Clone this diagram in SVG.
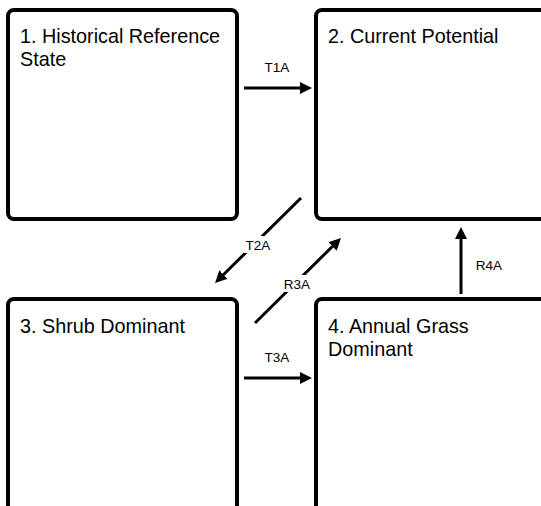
<svg xmlns="http://www.w3.org/2000/svg" width="541" height="506" viewBox="0 0 541 506">
  <style>
    .box { fill: #ffffff; stroke: #000000; stroke-width: 4; }
    .title { font-family: "Liberation Sans", Arial, sans-serif; font-size: 19.8px; fill: #000000; }
    .edge { stroke: #000000; stroke-width: 3; fill: none; marker-end: url(#head); }
    .lbl { font-family: "Liberation Sans", Arial, sans-serif; font-size: 13.5px; fill: #000000; text-anchor: middle; }
    .lblbg { fill: #ffffff; }
  </style>
  <defs>
    <marker id="head" markerUnits="userSpaceOnUse" markerWidth="14" markerHeight="12" refX="6" refY="6" orient="auto">
      <path d="M0,0 L12,6 L0,12 z" fill="#000000"/>
    </marker>
  </defs>
  <rect width="541" height="506" fill="#ffffff"/>

  <!-- states -->
  <g id="state1">
    <rect class="box" x="8" y="10" width="229" height="209" rx="6"/>
    <text class="title" x="20" y="43">1. Historical Reference</text>
    <text class="title" x="20" y="66">State</text>
  </g>
  <g id="state2">
    <rect class="box" x="316" y="10" width="250" height="209" rx="6"/>
    <text class="title" x="328" y="43">2. Current Potential</text>
  </g>
  <g id="state3">
    <rect class="box" x="8" y="299" width="229" height="260" rx="6"/>
    <text class="title" x="20" y="333">3. Shrub Dominant</text>
  </g>
  <g id="state4">
    <rect class="box" x="316" y="299" width="250" height="260" rx="6"/>
    <text class="title" x="328" y="333">4. Annual Grass</text>
    <text class="title" x="328" y="356">Dominant</text>
  </g>

  <!-- transitions -->
  <g id="connectors">
    <line class="edge" x1="244" y1="88" x2="306" y2="88"/>
    <text class="lbl" x="277" y="72">T1A</text>

    <line class="edge" x1="244" y1="378" x2="306" y2="378"/>
    <text class="lbl" x="277" y="362">T3A</text>

    <line class="edge" x1="461" y1="294" x2="461" y2="233"/>
    <text class="lbl" x="489" y="270">R4A</text>

    <line class="edge" x1="301" y1="198" x2="219.3" y2="278.8"/>
    <rect class="lblbg" x="244" y="236" width="29" height="17"/>
    <text class="lbl" x="258" y="250">T2A</text>

    <line class="edge" x1="255" y1="323" x2="336.7" y2="242.2"/>
    <rect class="lblbg" x="282" y="275" width="30" height="17"/>
    <text class="lbl" x="297" y="289">R3A</text>
  </g>
</svg>
